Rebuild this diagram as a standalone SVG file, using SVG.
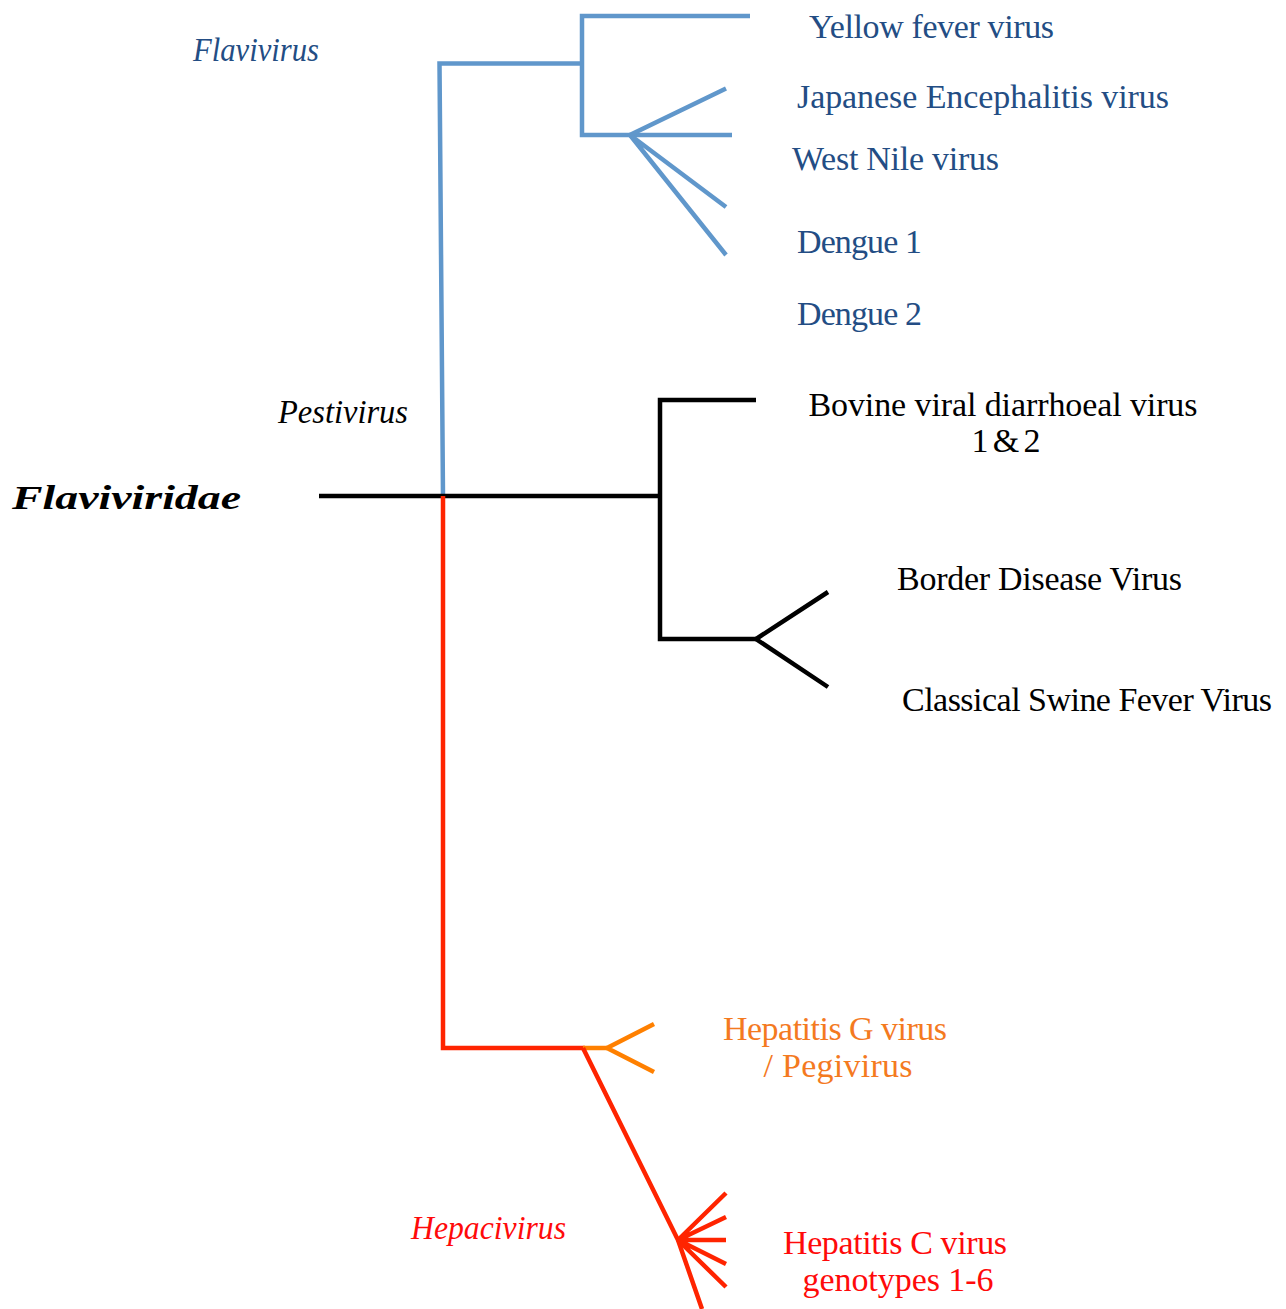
<svg xmlns="http://www.w3.org/2000/svg" width="1286" height="1309" viewBox="0 0 1286 1309">
  <style>
    text { font-family: "Liberation Serif", "Times New Roman", serif; font-size: 34px; }
    .it { font-style: italic; }
    .blue-t { fill: #234D84; }
    .black-t { fill: #000000; }
    .orange-t { fill: #F47A1F; }
    .red-t { fill: #FF0A0A; }
    .edge { fill: none; stroke-width: 4.5; stroke-linejoin: miter; stroke-linecap: butt; }
    .blue { stroke: #6097CB; }
    .black { stroke: #000000; }
    .red { stroke: #FF2400; }
    .orange { stroke: #FF8000; }
  </style>
  <rect width="1286" height="1309" fill="#ffffff"/>

  <!-- tree branches -->
  <g id="connectors">
    <!-- Flavivirus clade -->
    <path class="edge blue" d="M443,496 L439.5,63.5 L582,63.5"/>
    <path class="edge blue" d="M750,16 L582,16 L582,135 L732,135"/>
    <path class="edge blue" d="M726,88.5 L630,135 L726,207 M630,135 L726,255"/>
    <!-- Pestivirus clade -->
    <path class="edge black" d="M319,496 L660,496"/>
    <path class="edge black" d="M756,400 L660,400 L660,639 L756,639"/>
    <path class="edge black" d="M828,592 L756,639 L828,687"/>
    <!-- Hepacivirus / Pegivirus clade -->
    <path class="edge red" d="M443,496 L443,1048 L585,1048"/>
    <path class="edge orange" d="M583,1048 L607,1048"/>
    <path class="edge orange" d="M654,1024 L607,1048 L654,1072"/>
    <path class="edge red" d="M583,1048 L678,1240 L702,1309"/>
    <path class="edge red" d="M726,1193 L678,1240 L726,1217 M678,1240 L726,1240 M678,1240 L726,1264 M678,1240 L726,1287"/>
  </g>

  <g id="family">
    <text x="12" y="509" font-size="44" font-weight="bold" class="it black-t" textLength="229" lengthAdjust="spacingAndGlyphs">Flaviviridae</text>
  </g>

  <g id="genus-flavivirus">
    <text x="193" y="61" class="it blue-t" textLength="126" lengthAdjust="spacingAndGlyphs">Flavivirus</text>
  </g>
  <g id="genus-pestivirus">
    <text x="278" y="423" class="it black-t" textLength="130" lengthAdjust="spacingAndGlyphs">Pestivirus</text>
  </g>
  <g id="genus-hepacivirus">
    <text x="411" y="1239" class="it red-t" textLength="155" lengthAdjust="spacingAndGlyphs">Hepacivirus</text>
  </g>

  <g id="yellow-fever">
    <text x="809" y="38" class="blue-t" textLength="245">Yellow fever virus</text>
  </g>
  <g id="japanese-encephalitis">
    <text x="797" y="108" class="blue-t" textLength="372">Japanese Encephalitis virus</text>
  </g>
  <g id="west-nile">
    <text x="792" y="170" class="blue-t" textLength="207">West Nile virus</text>
  </g>
  <g id="dengue-1">
    <text x="797" y="253" class="blue-t" textLength="125">Dengue 1</text>
  </g>
  <g id="dengue-2">
    <text x="797" y="325" class="blue-t" textLength="125">Dengue 2</text>
  </g>

  <g id="bovine-viral-diarrhoea">
    <text x="1003" y="416" text-anchor="middle" class="black-t" textLength="389">Bovine viral diarrhoeal virus</text>
    <text x="1006" y="452" text-anchor="middle" class="black-t" textLength="69">1 &amp; 2</text>
  </g>
  <g id="border-disease">
    <text x="897" y="590" class="black-t" textLength="285">Border Disease Virus</text>
  </g>
  <g id="classical-swine-fever">
    <text x="902" y="711" class="black-t" textLength="370">Classical Swine Fever Virus</text>
  </g>

  <g id="hepatitis-g">
    <text x="835" y="1040" text-anchor="middle" class="orange-t" textLength="224">Hepatitis G virus</text>
    <text x="838" y="1077" text-anchor="middle" class="orange-t" textLength="149">/ Pegivirus</text>
  </g>
  <g id="hepatitis-c">
    <text x="895" y="1254" text-anchor="middle" class="red-t" textLength="224">Hepatitis C virus</text>
    <text x="898" y="1291" text-anchor="middle" class="red-t" textLength="191">genotypes 1-6</text>
  </g>
</svg>
